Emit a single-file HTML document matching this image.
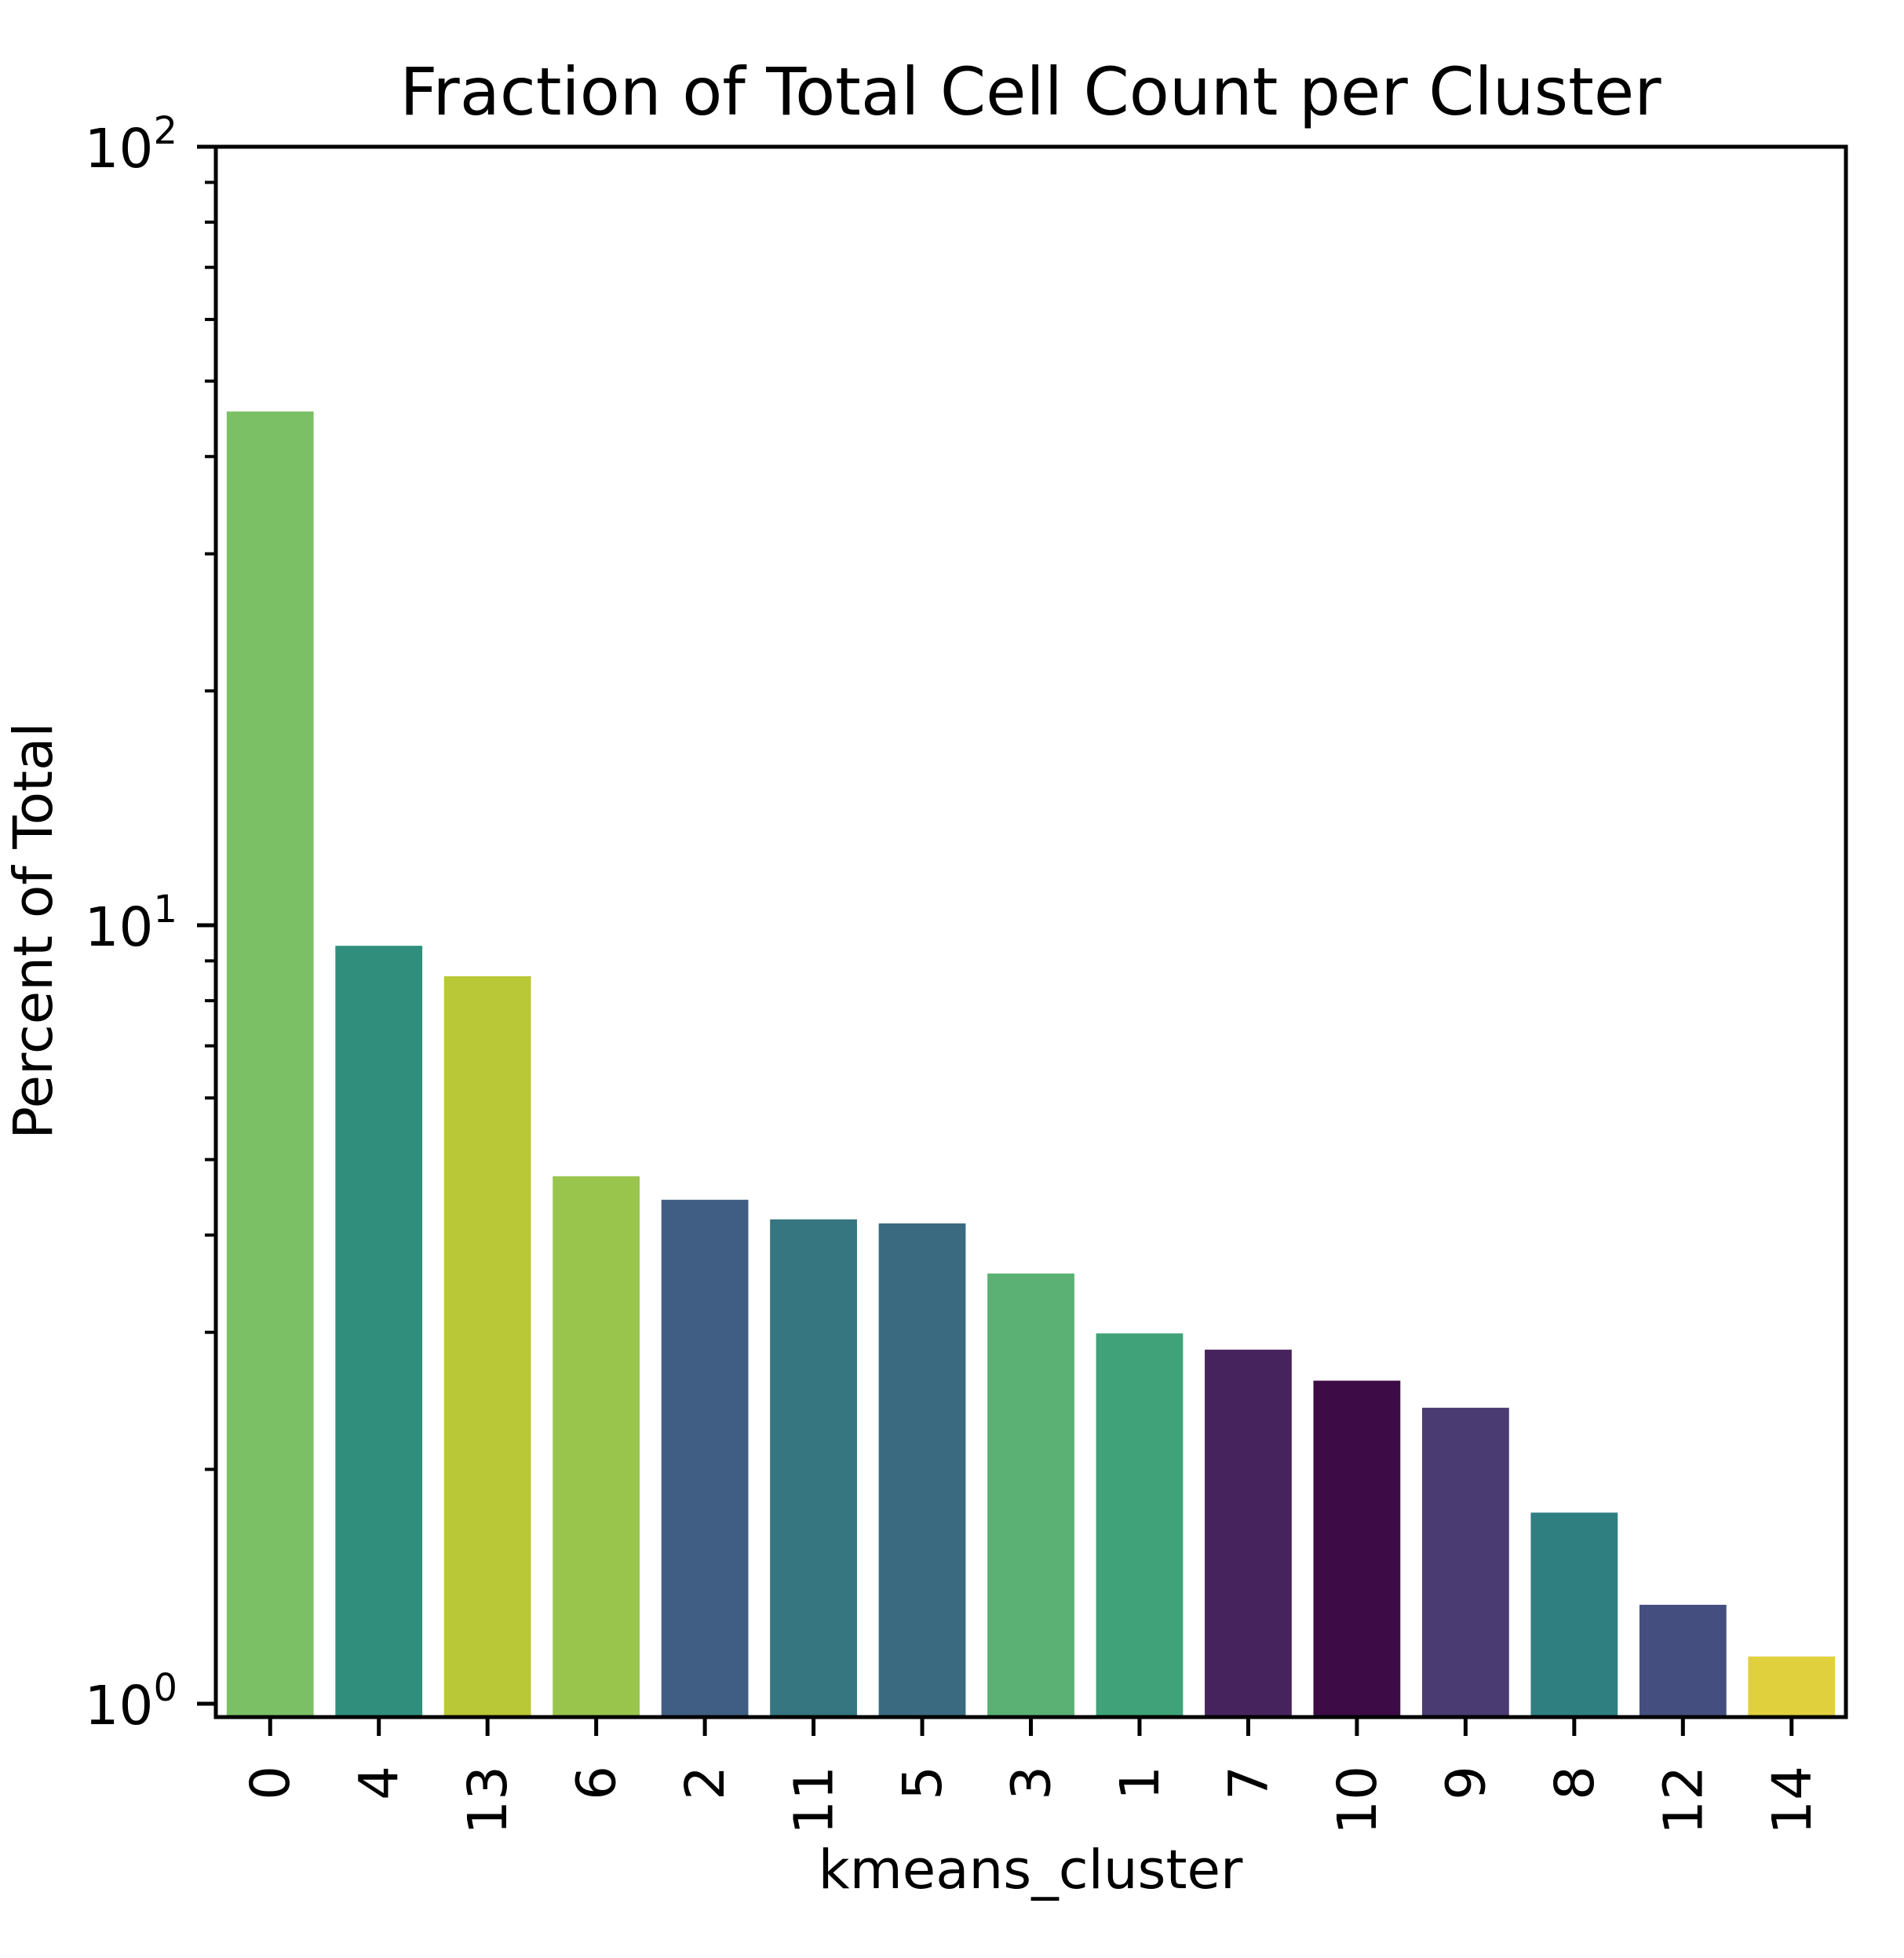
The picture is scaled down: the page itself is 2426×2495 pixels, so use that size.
<!DOCTYPE html>
<html><head><meta charset="utf-8"><style>
html,body{margin:0;padding:0;background:#fff;}
svg{display:block;font-family:"DejaVu Sans","Liberation Sans",sans-serif;}
</style></head><body>
<svg id="chart" width="2426" height="2495" viewBox="0 0 2426 2495" xmlns="http://www.w3.org/2000/svg">
<rect width="2426" height="2495" fill="#fff"/>
<text x="1313" y="146" font-size="83.5" text-anchor="middle" fill="#000">Fraction of Total Cell Count per Cluster</text>
<text transform="translate(66,1186) rotate(-90)" font-size="69" text-anchor="middle" fill="#000">Percent of Total</text>
<text x="1313" y="2406" font-size="69" text-anchor="middle" fill="#000">kmeans_cluster</text>
<g id="bars"></g>
<g id="ticks"></g>
<rect x="275" y="187" width="2077" height="2001" fill="none" stroke="#000" stroke-width="5"/>
</svg>
<script>
const categories = ["0","4","13","6","2","11","5","3","1","7","10","9","8","12","14"];
const values = [45.7,9.41,8.60,4.76,4.44,4.19,4.14,3.57,2.99,2.85,2.60,2.40,1.76,1.34,1.15];
const colors = ["#7bc065","#2f8f7c","#b9c836","#9ac54c","#405e83","#357680","#3a6a80","#5ab173","#40a279","#47235e","#3d0b46","#4a3b72","#2f7f80","#454f7f","#e0d03e"];
const majorTicks = [1,10,100];
const majorLabels = ["0","1","2"];

const NS = "http://www.w3.org/2000/svg";
const L = 275, R = 2352, T = 187, B = 2188;
const yMaxLog = 2, decade = 992;
function yScale(v){ return T + (yMaxLog - Math.log10(v)) * decade; }
const step = (R - L) / categories.length;
function xCenter(i){ return L + step * (i + 0.5); }
const bw = step * 0.8;

function mk(tag, attrs){ const e = document.createElementNS(NS, tag); for (const k in attrs) e.setAttribute(k, attrs[k]); return e; }
const bars = document.getElementById('bars');
const ticks = document.getElementById('ticks');

categories.forEach((c, i) => {
  const y = yScale(values[i]);
  const r = mk('rect', {x: xCenter(i) - bw/2, y: y, width: bw, height: B - y, fill: colors[i]});
  
  
  bars.appendChild(r);
  const t = mk('line', {x1: xCenter(i), x2: xCenter(i), y1: B, y2: B + 24, stroke: '#000', 'stroke-width': 5});
  
  
  ticks.appendChild(t);
  const lb = mk('text', {transform: 'translate(' + (xCenter(i) + 24) + ',2250) rotate(-90)', 'font-size': 69, 'text-anchor': 'end'});
  lb.textContent = c;
  
  
  ticks.appendChild(lb);
});

majorTicks.forEach((v, i) => {
  const y = yScale(v);
  const t = mk('line', {x1: L - 24, x2: L, y1: y, y2: y, stroke: '#000', 'stroke-width': 5});
  
  
  ticks.appendChild(t);
  const lb = mk('text', {x: 226, y: y + 26, 'font-size': 69, 'text-anchor': 'end'});
  lb.innerHTML = '10<tspan dy="-30" font-size="48">' + majorLabels[i] + '</tspan>';
  
  
  ticks.appendChild(lb);
});
[1, 10].forEach(base => {
  for (let m = 2; m <= 9; m++) {
    const y = yScale(base * m);
    const t = mk('line', {x1: L - 14, x2: L, y1: y, y2: y, stroke: '#000', 'stroke-width': 4});
    
    
    ticks.appendChild(t);
  }
});
</script>
</body></html>
